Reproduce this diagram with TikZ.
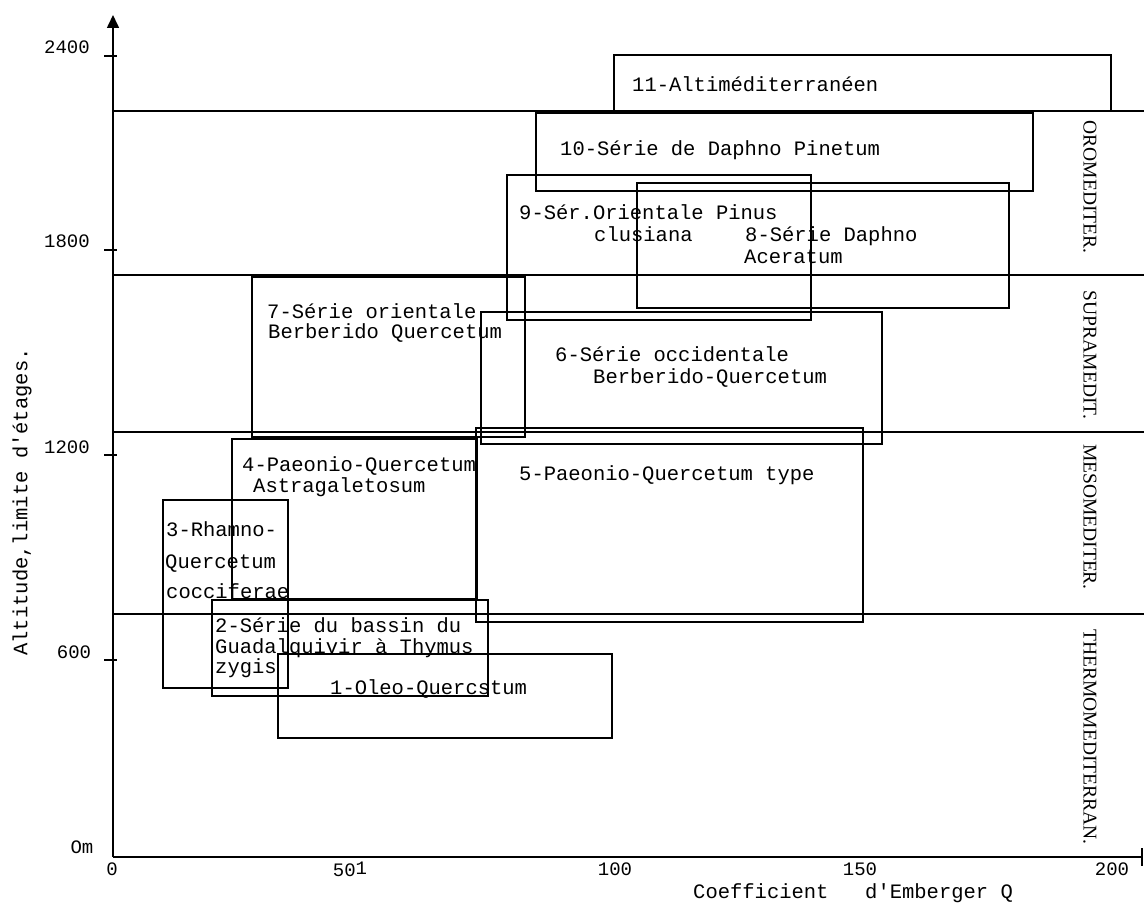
\documentclass[tikz,border=0pt]{standalone}
\usepackage{fontspec}
\setmainfont{Liberation Serif}
\setmonofont{Liberation Mono}
\usetikzlibrary{arrows.meta}
\begin{document}
\begin{tikzpicture}[x=1pt,y=-1pt,
  box/.style={line width=1.8pt},
  zone/.style={line width=1.2pt},
  axis/.style={line width=1.6pt},
  lab/.style={font=\ttfamily\fontsize{20.5}{24}\selectfont, inner sep=0pt, anchor=base west},
  ticklab/.style={font=\ttfamily\fontsize{19}{22}\selectfont, inner sep=0pt},
  etage/.style={font=\fontsize{19.5}{22}\selectfont, inner sep=0pt, rotate=-90}]
\useasboundingbox (0,0) rectangle (1144,909);

% axes
\coordinate (O) at (113,857);
\coordinate (Ytop) at (113,15);
\coordinate (Xend) at (1142,857);
\draw[axis,-{Triangle[length=13pt,width=12pt]}] (O) -- (Ytop);
\draw[axis] (O) -- (Xend);
\draw[axis] (1142,848) -- (1142,866);
\foreach \y in {56,250,455,660} \draw[axis] (104,\y) -- (117,\y);

% zone limits
\foreach \y in {111,275,432,614} \draw[zone] (113,\y) -- (1144,\y);

% tick labels
\node[ticklab] (t2400) at (67,47) {2400};
\node[ticklab] (t1800) at (67,241) {1800};
\node[ticklab] (t1200) at (67,447) {1200};
\node[ticklab] (t600) at (74,652) {600};
\node[ticklab] (t0m) at (82,847) {Om};
\node[ticklab] (x0) at (112,869) {0};
\node[ticklab] (x50) at (350,869) {50\raisebox{2pt}{1}};
\node[ticklab] (x100) at (615,869) {100};
\node[ticklab] (x150) at (860,869) {150};
\node[ticklab] (x200) at (1112,869) {200};

% axis titles
\node[font=\ttfamily\fontsize{20.5}{24}\selectfont, inner sep=0pt, rotate=90] (ylab) at (22,502) {Altitude,limite d'étages.};
\node[lab] (xlab1) at (693,898) {Coefficient};
\node[lab] (xlab2) at (865,898) {d'Emberger Q};

% zone names
\node[etage] (oro) at (1090,187) {OROMEDITER.};
\node[etage] (supra) at (1090,355) {SUPRAMEDIT.};
\node[etage] (meso) at (1090,517) {MESOMEDITER.};
\node[etage] (thermo) at (1090,737) {THERMOMEDITERRAN.};

% series boxes
\draw[box] (614,55) rectangle (1111,111);
\draw[box] (536,113) rectangle (1033,191);
\draw[box] (507,175) rectangle (811,320);
\draw[box] (637,183) rectangle (1009,308);
\draw[box] (252,277) rectangle (525,437);
\draw[box] (481,312) rectangle (882,444);
\draw[box] (476,428) rectangle (863,622);
\draw[box] (232,439) rectangle (477,599);
\draw[box] (163,500) rectangle (288,688);
\draw[box] (212,600) rectangle (488,696);
\draw[box] (278,654) rectangle (612,738);

% series labels
\node[lab] (s11) at (632,92) {11-Altiméditerranéen};
\node[lab] (s10) at (560,156) {10-Série de Daphno Pinetum};
\node[lab] (s9a) at (519,220) {9-Sér.Orientale Pinus};
\node[lab] (s9b) at (594,242) {clusiana};
\node[lab] (s8a) at (745,242) {8-Série Daphno};
\node[lab] (s8b) at (744,264) {Aceratum};
\node[lab] (s7a) at (267,319) {7-Série orientale};
\node[lab] (s7b) at (268,339) {Berberido Quercetum};
\node[lab] (s6a) at (555,362) {6-Série occidentale};
\node[lab] (s6b) at (593,384) {Berberido-Quercetum};
\node[lab] (s5) at (519,480) {5-Paeonio-Quercetum type};
\node[lab] (s4a) at (242,471) {4-Paeonio-Quercetum};
\node[lab] (s4b) at (253,492) {Astragaletosum};
\node[lab] (s3a) at (166,536) {3-Rhamno-};
\node[lab] (s3b) at (165,568) {Quercetum};
\node[lab] (s3c) at (166,598) {cocciferae};
\node[lab] (s2a) at (215,632) {2-Série du bassin du};
\node[lab] (s2b) at (215,653) {Guadalquivir à Thymus};
\node[lab] (s2c) at (215,673) {zygis};
\node[lab] (s1) at (330,694) {1-Oleo-Quercstum};
\end{tikzpicture}
\end{document}
